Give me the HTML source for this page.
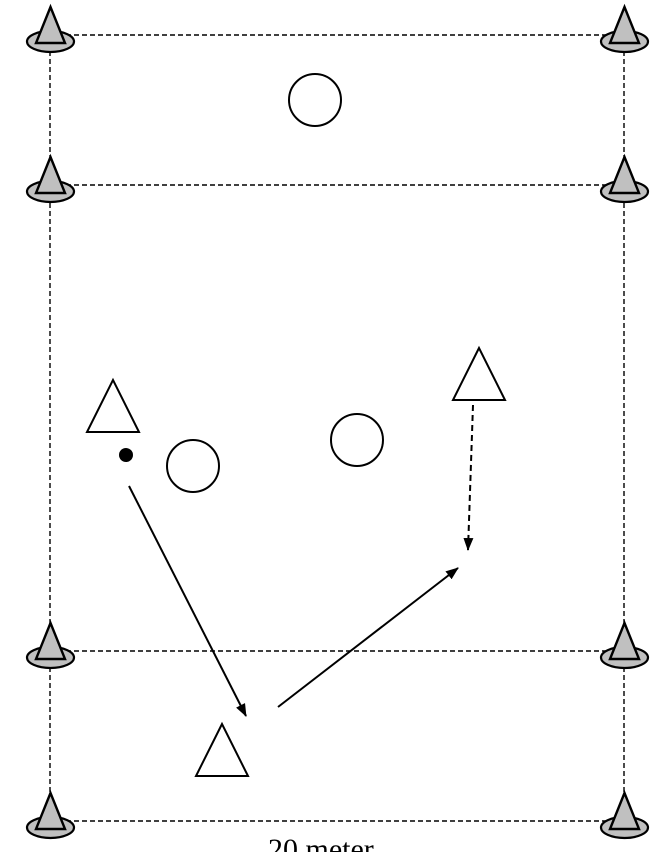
<!DOCTYPE html>
<html><head><style>body{margin:0;background:#fff}svg{display:block}</style></head><body>
<svg width="654" height="852" viewBox="0 0 654 852" xmlns="http://www.w3.org/2000/svg">
<defs>
<marker id="ah" markerWidth="13" markerHeight="10" refX="12" refY="5" orient="auto" markerUnits="userSpaceOnUse">
<path d="M0,0 L13,5 L0,10 Z" fill="#000"/></marker>
<g id="cone">
<ellipse cx="0.5" cy="6.5" rx="23.5" ry="10.5" fill="#c0c0c0" stroke="#000" stroke-width="2.2"/>
<path d="M0.5,-28 L-14,8 L15,8 Z" fill="#c0c0c0" stroke="#000" stroke-width="2.4" stroke-linejoin="miter"/>
</g>
</defs>
<g stroke="#000" stroke-width="1.4" stroke-dasharray="5,3" fill="none">
<line x1="50" y1="35" x2="624" y2="35"/>
<line x1="50" y1="185" x2="624" y2="185"/>
<line x1="50" y1="651" x2="624" y2="651"/>
<line x1="50" y1="821" x2="624" y2="821"/>
<line x1="50" y1="35" x2="50" y2="821"/>
<line x1="624" y1="35" x2="624" y2="821"/>
</g>
<use href="#cone" x="50" y="35"/><use href="#cone" x="624" y="35"/>
<use href="#cone" x="50" y="185"/><use href="#cone" x="624" y="185"/>
<use href="#cone" x="50" y="651"/><use href="#cone" x="624" y="651"/>
<use href="#cone" x="50" y="821"/><use href="#cone" x="624" y="821"/>
<g fill="#fff" stroke="#000" stroke-width="2">
<circle cx="315" cy="100" r="26"/>
<circle cx="193" cy="466" r="26"/>
<circle cx="357" cy="440" r="26"/>
<path d="M113,380 L87,432 L139,432 Z"/>
<path d="M479,348 L453,400 L505,400 Z"/>
<path d="M222,724 L196,776 L248,776 Z"/>
</g>
<circle cx="126" cy="455" r="7" fill="#000"/>
<g stroke="#000" stroke-width="2" fill="none">
<line x1="129" y1="486" x2="246" y2="716" marker-end="url(#ah)"/>
<line x1="278" y1="707" x2="458" y2="568" marker-end="url(#ah)"/>
<line x1="473" y1="405" x2="468" y2="550" stroke-dasharray="6,4" marker-end="url(#ah)"/>
</g>
<text x="268" y="859" font-family="Liberation Serif, serif" font-size="30">20 meter</text>
</svg>
</body></html>
